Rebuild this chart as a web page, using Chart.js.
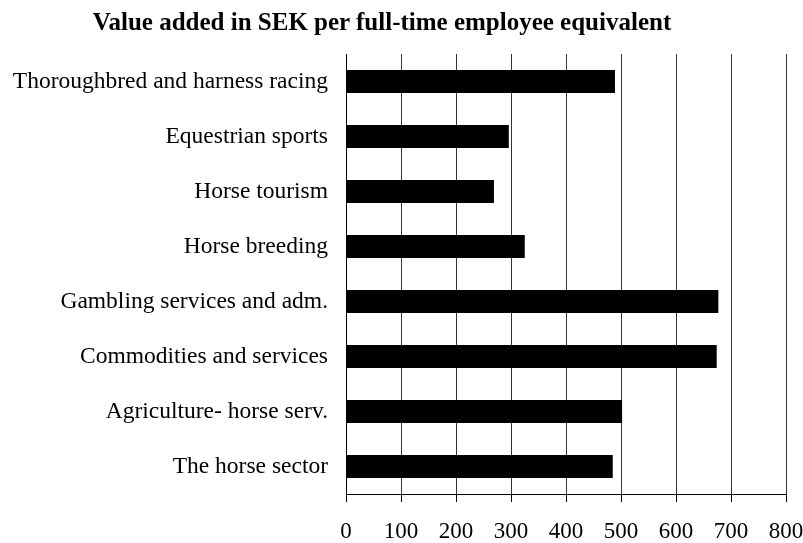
<!DOCTYPE html>
<html>
<head>
<meta charset="utf-8">
<script src="https://cdn.jsdelivr.net/npm/chart.js@4"></script>
<style>
 body{margin:0;background:#fff;}
 #wrap{position:relative;width:803px;height:543px;}
 #title{position:absolute;left:0;top:6px;width:764px;text-align:center;
  font-family:"Liberation Serif","Times New Roman",serif;font-weight:bold;font-size:25px;line-height:32px;color:#000;}
</style>
</head>
<body>
<div id="wrap">
 <div id="title">Value added in SEK per full-time employee equivalent</div>
 <canvas id="chart" width="803" height="543"></canvas>
</div>
<script>
// data
var categories=[
 "Thoroughbred and harness racing",
 "Equestrian sports",
 "Horse tourism",
 "Horse breeding",
 "Gambling services and adm.",
 "Commodities and services",
 "Agriculture- horse serv.",
 "The horse sector"
];
var values=[489,296,269,325,677,674,502,485];
var tick_min=0;
var tick_max=800;
var tick_step=100;

var serif="'Liberation Serif','Times New Roman',serif";
var ctx=document.getElementById("chart").getContext("2d");
var myChart=new Chart(ctx,{
 type:'bar',
 data:{
  labels:categories,
  datasets:[{
   label:'Value added',
   data:values,
   backgroundColor:'#000',
   borderWidth:0,
   categoryPercentage:1,
   barPercentage:0.42
  }]
 },
 options:{
  indexAxis:'y',
  responsive:false,
  animation:false,
  layout:{padding:{top:54,right:17,left:0,bottom:0}},
  plugins:{legend:{display:false},tooltip:{enabled:false},title:{display:false}},
  scales:{
   x:{
    min:tick_min,max:tick_max,
    ticks:{stepSize:tick_step,color:'#000',font:{family:serif,size:23},padding:16,maxRotation:0},
    grid:{color:'#333',lineWidth:1,tickLength:8,tickColor:'#000',drawTicks:true},
    border:{display:true,color:'#000',width:1},
    afterFit:function(scale){scale.height=49;scale.paddingRight=0;scale.paddingLeft=0;}
   },
   y:{
    ticks:{color:'#000',font:{family:serif,size:23.5},padding:18},
    grid:{display:false,drawTicks:false},
    border:{display:true,color:'#000',width:1},
    afterFit:function(scale){scale.width=346;scale.paddingTop=0;scale.paddingBottom=0;}
   }
  }
 }
});
</script>
</body>
</html>
